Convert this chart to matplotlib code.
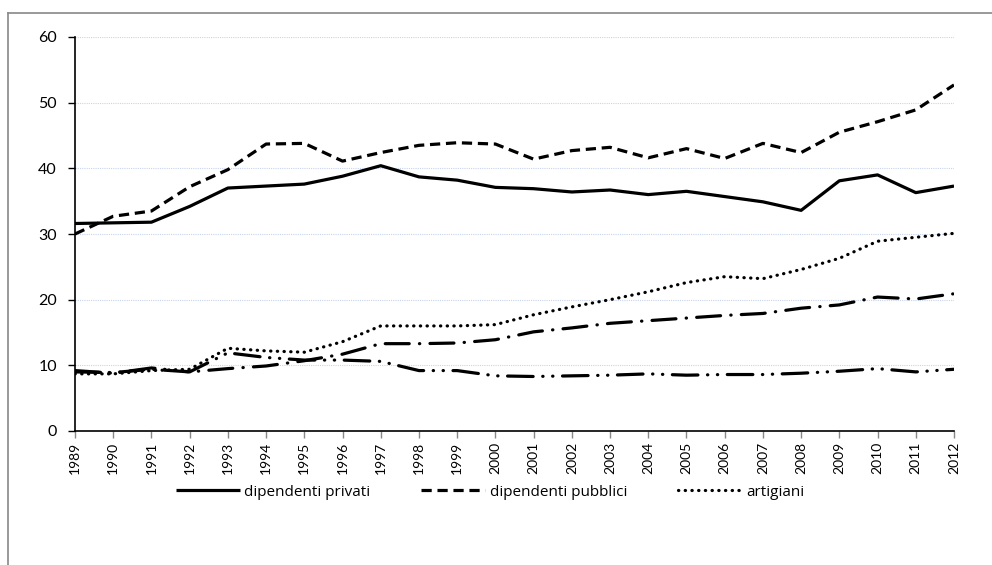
import matplotlib
matplotlib.use("Agg")
import matplotlib.pyplot as plt
from matplotlib.lines import Line2D

years = list(range(1989, 2013))
year_labels = [str(y) for y in years]

dipendenti_privati = [31.6, 31.7, 31.8, 34.2, 37.0, 37.3, 37.6, 38.8, 40.4, 38.7, 38.2, 37.1,
                      36.9, 36.4, 36.7, 36.0, 36.5, 35.7, 34.9, 33.6, 38.1, 39.0, 36.3, 37.3]
dipendenti_pubblici = [30.0, 32.7, 33.5, 37.2, 39.8, 43.7, 43.8, 41.1, 42.4, 43.5, 43.9, 43.7,
                       41.4, 42.7, 43.2, 41.6, 43.0, 41.5, 43.8, 42.4, 45.5, 47.1, 48.9, 52.7]
artigiani = [8.7, 8.7, 9.2, 9.4, 12.6, 12.2, 12.0, 13.6, 16.0, 16.0, 16.0, 16.2,
             17.7, 18.9, 20.0, 21.2, 22.6, 23.5, 23.2, 24.6, 26.3, 28.9, 29.5, 30.1]
serie_4 = [9.0, 8.9, 9.4, 9.0, 9.5, 9.9, 10.7, 11.7, 13.3, 13.3, 13.4, 13.9,
           15.1, 15.7, 16.4, 16.8, 17.2, 17.6, 17.9, 18.7, 19.2, 20.4, 20.1, 20.9]
serie_5 = [9.2, 8.8, 9.6, 9.0, 11.9, 11.2, 10.8, 10.8, 10.6, 9.2, 9.2, 8.4,
           8.3, 8.4, 8.5, 8.7, 8.5, 8.6, 8.6, 8.8, 9.1, 9.5, 9.0, 9.4]

legend_labels = ["dipendenti privati", "dipendenti pubblici", "artigiani"]

plt.rcParams['font.family'] = ['Lato', 'DejaVu Sans']

fig = plt.figure(figsize=(9.92, 5.65), dpi=100)
ax = fig.add_axes([75/992, 1-431/565, (954-75)/992, (431-37)/565])

lw = 2.3
x = list(range(len(years)))
l1, = ax.plot(x, dipendenti_privati, color='black', lw=lw, solid_capstyle='butt', solid_joinstyle='round')
l2, = ax.plot(x, dipendenti_pubblici, color='black', lw=lw, linestyle=(0, (3.2, 1.8)), dash_capstyle='butt')
l3, = ax.plot(x, artigiani, color='black', lw=lw, linestyle=(0, (0.1, 2.0)), dash_capstyle='round')
ax.plot(x, serie_4, color='black', lw=lw, linestyle=(0, (7.5, 3.2, 0.1, 3.2)), dash_capstyle='round')
ax.plot(x, serie_5, color='black', lw=lw, linestyle=(0, (8.0, 3.0, 0.1, 3.0, 0.1, 3.0)), dash_capstyle='round')

ax.set_xlim(0, len(years)-1)
ax.set_ylim(0, 60)
ax.set_yticks(range(0, 61, 10))
ax.set_xticks(x)
ax.set_xticklabels(year_labels, rotation=90, fontsize=10)
ax.tick_params(axis='y', labelsize=11.5, length=5, width=1, direction='out', pad=8)
ax.tick_params(axis='x', length=5, width=1, direction='out', color='#888888', pad=3)
ax.yaxis.grid(True, color='#c8d4ec', linestyle=(0, (1, 1)), lw=0.8)
ax.set_axisbelow(True)
for s in ['top', 'right']:
    ax.spines[s].set_visible(False)
ax.spines['left'].set_linewidth(1.2)
ax.spines['bottom'].set_linewidth(1.2)

leg = fig.legend([l1, l2, l3], legend_labels, loc='center', bbox_to_anchor=(0.494, 1-492/565),
                 ncol=3, frameon=False, handlelength=4.2, columnspacing=3.3,
                 handletextpad=0.3, prop={'family': ['Open Sans', 'DejaVu Sans'], 'size': 11})

# outer chart border
fig.add_artist(Line2D([8/992, 8/992], [0, 1-13/565], color='#888888', lw=1.2, transform=fig.transFigure))
fig.add_artist(Line2D([8/992, 1], [1-13/565, 1-13/565], color='#888888', lw=1.2, transform=fig.transFigure))

fig.savefig("out.png", dpi=100)
